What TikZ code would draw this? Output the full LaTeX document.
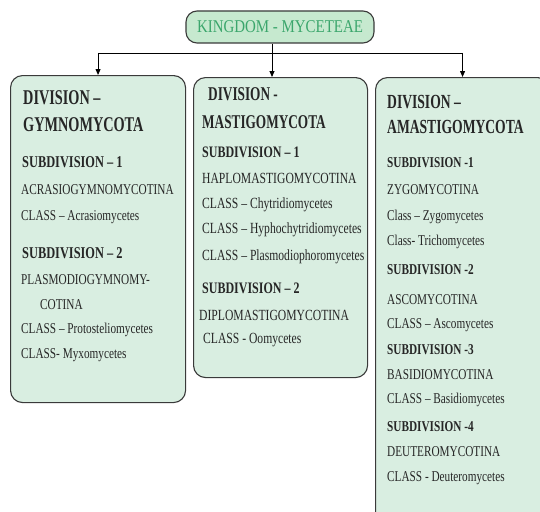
\documentclass[tikz,border=0pt]{standalone}
\usepackage{fontspec}
\setmainfont{Liberation Serif}[FakeStretch=0.75]
\newfontfamily\topf{Liberation Serif}[FakeStretch=0.83]
\newfontfamily\headf{Liberation Serif}[FakeStretch=0.68]
\usetikzlibrary{arrows.meta}
\definecolor{boxfill}{HTML}{D9EEE1}
\definecolor{topfill}{HTML}{C6E9CF}
\definecolor{topgreen}{HTML}{3BA66C}
\definecolor{txt}{HTML}{262626}
\definecolor{edge}{HTML}{3A3A3A}
\tikzset{
  divbox/.style={draw=edge, line width=1.1pt, fill=boxfill, rounded corners=12pt, anchor=north west, inner sep=0pt},
  topbox/.style={draw=edge, line width=1.1pt, fill=topfill, rounded corners=11pt, inner sep=0pt, minimum width=188pt, minimum height=32pt, text=topgreen, font=\topf\fontsize{18}{20}\selectfont},
  tl/.style={anchor=west, inner sep=0pt, text=txt},
  conn/.style={line width=0.9pt, draw=black},
  arr/.style={conn, -{Triangle[length=6pt,width=5pt]}},
}
\begin{document}
\begin{tikzpicture}[x=1pt,y=-1pt]
\useasboundingbox (0,0) rectangle (540,511);
\clip (0,0) rectangle (540,511);
\fill[white] (0,0) rectangle (540,511);

\node[topbox] (top) at (280,27) {KINGDOM - MYCETEAE};

\node[divbox, minimum width=175pt, minimum height=327pt] (gym) at (10,75) {};
\node[divbox, minimum width=174pt, minimum height=300pt] (mast) at (193,77) {};
\node[divbox, minimum width=174pt, minimum height=460pt] (amast) at (375,77) {};

\coordinate (hub) at (272,53);
\draw[conn] (gym.north |- hub) -- (amast.north |- hub);
\draw[arr] (top.south -| hub) -- (hub |- mast.north);
\draw[arr] (gym.north |- hub) -- (gym.north);
\draw[arr] (amast.north |- hub) -- (amast.north);

\begin{scope}[every node/.append style={tl}]
% left box
\node[font=\headf\bfseries\fontsize{21}{22}\selectfont] (g1) at (23,98) {DIVISION –};
\node[font=\headf\bfseries\fontsize{21}{22}\selectfont] (g2) at (23,125) {GYMNOMYCOTA};
\node[font=\bfseries\fontsize{16.5}{18}\selectfont] (g3) at (22,162) {SUBDIVISION – 1};
\node[font=\fontsize{15}{17}\selectfont] (g4) at (21,190) {ACRASIOGYMNOMYCOTINA};
\node[font=\fontsize{15}{17}\selectfont] (g5) at (21,217) {CLASS – Acrasiomycetes};
\node[font=\bfseries\fontsize{16.5}{18}\selectfont] (g6) at (22,253) {SUBDIVISION – 2};
\node[font=\fontsize{15}{17}\selectfont] (g7) at (21,280) {PLASMODIOGYMNOMY-};
\node[font=\fontsize{15}{17}\selectfont] (g8) at (40,305) {COTINA};
\node[font=\fontsize{15}{17}\selectfont] (g9) at (21,330) {CLASS – Protosteliomycetes};
\node[font=\fontsize{15}{17}\selectfont] (g10) at (21,355) {CLASS- Myxomycetes};

% middle box
\node[font=\headf\bfseries\fontsize{19.5}{22}\selectfont] (m1) at (208,94) {DIVISION -};
\node[font=\headf\bfseries\fontsize{19.5}{22}\selectfont] (m2) at (202,122) {MASTIGOMYCOTA};
\node[font=\bfseries\fontsize{16}{18}\selectfont] (m3) at (202,152) {SUBDIVISION – 1};
\node[font=\fontsize{15.5}{17}\selectfont] (m4) at (202,178) {HAPLOMASTIGOMYCOTINA};
\node[font=\fontsize{15.5}{17}\selectfont] (m5) at (202,205) {CLASS – Chytridiomycetes};
\node[font=\fontsize{15.5}{17}\selectfont] (m6) at (202,230) {CLASS – Hyphochytridiomycetes};
\node[font=\fontsize{15.5}{17}\selectfont] (m7) at (202,257) {CLASS – Plasmodiophoromycetes};
\node[font=\bfseries\fontsize{16}{18}\selectfont] (m8) at (202,288) {SUBDIVISION – 2};
\node[font=\fontsize{15.5}{17}\selectfont] (m9) at (199,315) {DIPLOMASTIGOMYCOTINA};
\node[font=\fontsize{15.5}{17}\selectfont] (m10) at (203,340) {CLASS - Oomycetes};

% right box
\node[font=\headf\bfseries\fontsize{20}{22}\selectfont] (a1) at (387,102) {DIVISION –};
\node[font=\headf\bfseries\fontsize{20}{22}\selectfont] (a2) at (387,127) {AMASTIGOMYCOTA};
\node[font=\bfseries\fontsize{15}{17}\selectfont] (a3) at (387,163) {SUBDIVISION -1};
\node[font=\fontsize{15}{17}\selectfont] (a4) at (387,190) {ZYGOMYCOTINA};
\node[font=\fontsize{15}{17}\selectfont] (a5) at (387,217) {Class – Zygomycetes};
\node[font=\fontsize{15}{17}\selectfont] (a6) at (387,242) {Class- Trichomycetes};
\node[font=\bfseries\fontsize{15}{17}\selectfont] (a7) at (387,270) {SUBDIVISION -2};
\node[font=\fontsize{15}{17}\selectfont] (a8) at (387,300) {ASCOMYCOTINA};
\node[font=\fontsize{15}{17}\selectfont] (a9) at (387,325) {CLASS – Ascomycetes};
\node[font=\bfseries\fontsize{15}{17}\selectfont] (a10) at (387,350) {SUBDIVISION -3};
\node[font=\fontsize{15}{17}\selectfont] (a11) at (387,375) {BASIDIOMYCOTINA};
\node[font=\fontsize{15}{17}\selectfont] (a12) at (387,400) {CLASS – Basidiomycetes};
\node[font=\bfseries\fontsize{15}{17}\selectfont] (a13) at (387,427) {SUBDIVISION -4};
\node[font=\fontsize{15}{17}\selectfont] (a14) at (387,452) {DEUTEROMYCOTINA};
\node[font=\fontsize{15}{17}\selectfont] (a15) at (387,478) {CLASS - Deuteromycetes};
\end{scope}
\end{tikzpicture}
\end{document}
